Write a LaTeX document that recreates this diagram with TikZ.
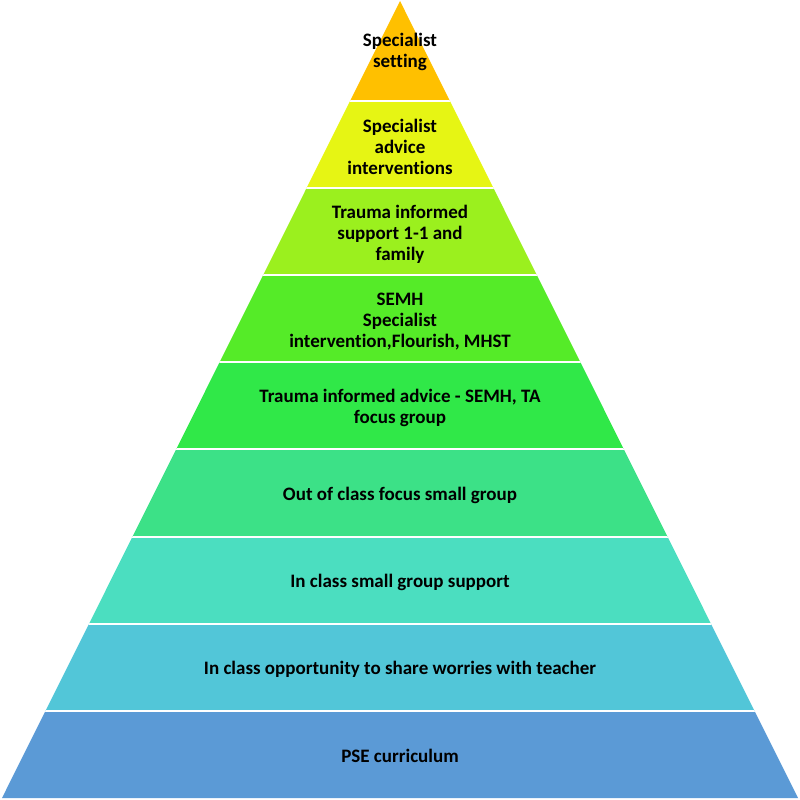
\documentclass[tikz,border=0pt]{standalone}
\usepackage{fontspec}
\setmainfont[Ligatures=NoCommon]{Carlito}
\definecolor{cA}{RGB}{255,192,0}
\definecolor{cB}{RGB}{230,245,20}
\definecolor{cC}{RGB}{155,240,30}
\definecolor{cD}{RGB}{85,235,40}
\definecolor{cE}{RGB}{48,232,72}
\definecolor{cF}{RGB}{60,225,135}
\definecolor{cG}{RGB}{75,222,192}
\definecolor{cH}{RGB}{82,198,216}
\definecolor{cI}{RGB}{91,154,214}
\tikzset{
  lbl/.style={align=center, font=\fontsize{19}{21}\selectfont\bfseries, text=black, inner sep=0pt},
  gapline/.style={draw=white, line width=2pt}
}
\begin{document}
\begin{tikzpicture}[x=1pt,y=-1pt]
\useasboundingbox (0,0) rectangle (800,800);
\begin{scope}
\clip (400,1) -- (2,798) -- (798,798) -- cycle;
\fill[cA] (0,0) rectangle (800,100.5);
\fill[cB] (0,100.5) rectangle (800,187.7);
\fill[cC] (0,187.7) rectangle (800,274.9);
\fill[cD] (0,274.9) rectangle (800,362.1);
\fill[cE] (0,362.1) rectangle (800,449.3);
\fill[cF] (0,449.3) rectangle (800,536.5);
\fill[cG] (0,536.5) rectangle (800,623.7);
\fill[cH] (0,623.7) rectangle (800,710.9);
\fill[cI] (0,710.9) rectangle (800,800);
\foreach \yy in {100.5,187.7,274.9,362.1,449.3,536.5,623.7,710.9}
  \draw[gapline] (0,\yy) -- (800,\yy);
\end{scope}
\node[lbl] (t1) at (400,52) {Specialist\\setting};
\node[lbl] (t2) at (400,147) {Specialist\\advice\\interventions};
\node[lbl] (t3) at (400,234) {Trauma informed\\support 1-1 and\\family};
\node[lbl] (t4) at (400,322) {SEMH\\Specialist\\intervention,Flourish, MHST};
\node[lbl] (t5) at (400,408) {Trauma informed advice - SEMH, TA\\focus group};
\node[lbl] (t6) at (400,495) {Out of class focus small group};
\node[lbl] (t7) at (400,582) {In class small group support};
\node[lbl] (t8) at (400,669) {In class opportunity to share worries with teacher};
\node[lbl] (t9) at (400,756) {PSE curriculum};
\end{tikzpicture}
\end{document}
